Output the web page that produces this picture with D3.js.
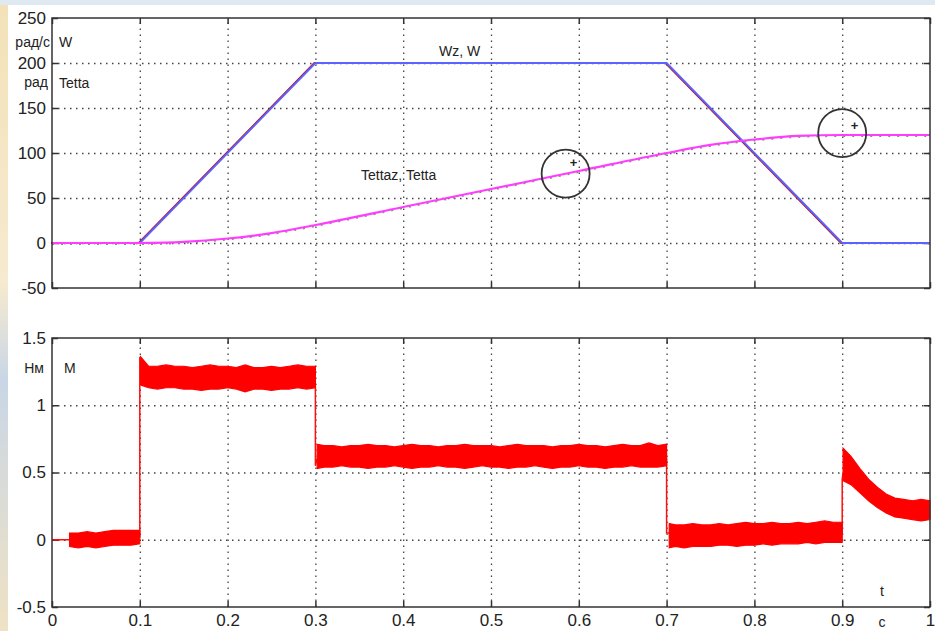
<!DOCTYPE html>
<meta charset="utf-8">
<style>
 body { margin: 0; background: #fff; }
 svg { font-family: 'Liberation Sans', Arial, sans-serif; }
 .grid line { stroke: #444; stroke-dasharray: 1.5,4.5; stroke-width: 1.3; }
 .grid path { display: none; }
 .ticks path { display: none; }
 .ticks line { stroke: #333; stroke-width: 1.5; }
 .ticks text { font-size: 17px; fill: #222; }
 .frame { fill: none; stroke: #333; stroke-width: 1.5; }
 .lbl { font-size: 14px; fill: #222; }
</style>
<body>
<script src="https://cdn.jsdelivr.net/npm/d3@7"></script>
<script>

 // top panel: speed W / Wz and angle Tetta / Tettaz
 var wT    = [0, 0.1, 0.3, 0.7, 0.9, 1.0];
 var wVal  = [0, 0, 200, 200, 0, 0];
 var wzVal = [0, 0, 200, 200, 0, 0];

 var thT   = [0, 0.1, 0.13, 0.15, 0.2, 0.25, 0.3, 0.4, 0.5, 0.6, 0.7, 0.75, 0.8, 0.85, 0.9, 1.0];
 var thVal = [0, 0, 0.5, 1.3, 5, 11, 20, 40, 60, 80, 100, 109, 115, 119, 120, 120];

 // circled markers
 var markT   = [0.585, 0.9];
 var markVal = [77, 122];
 var plusT   = [0.594, 0.914];
 var plusVal = [90, 131];

 // bottom panel: torque M, noisy band given as upper / lower envelope
 var mT  = [0.02,0.03,0.04,0.05,0.06,0.07,0.08,0.09,0.10, null,
            0.101,0.11,0.12,0.13,0.14,0.15,0.16,0.17,0.18,0.19,0.20,0.21,0.22,0.23,0.24,0.25,0.26,0.27,0.28,0.29,0.30, null,
            0.302,0.31,0.32,0.33,0.34,0.35,0.36,0.37,0.38,0.39,0.40,0.41,0.42,0.43,0.44,0.45,0.46,0.47,0.48,0.49,0.50,
            0.51,0.52,0.53,0.54,0.55,0.56,0.57,0.58,0.59,0.60,0.61,0.62,0.63,0.64,0.65,0.66,0.67,0.68,0.69,0.70, null,
            0.703,0.71,0.72,0.73,0.74,0.75,0.76,0.77,0.78,0.79,0.80,0.81,0.82,0.83,0.84,0.85,0.86,0.87,0.88,0.89,0.90, null,
            0.901,0.91,0.92,0.93,0.94,0.95,0.96,0.97,0.98,0.99,1.0];
 var mHi = [0.05,0.05,0.06,0.05,0.06,0.07,0.07,0.07,0.07, null,
            1.36,1.29,1.29,1.30,1.29,1.29,1.28,1.29,1.30,1.29,1.29,1.28,1.30,1.28,1.28,1.29,1.28,1.29,1.30,1.29,1.29, null,
            0.71,0.70,0.70,0.69,0.70,0.70,0.71,0.70,0.70,0.69,0.70,0.71,0.70,0.70,0.69,0.70,0.70,0.71,0.70,0.70,0.70,
            0.69,0.70,0.71,0.70,0.70,0.70,0.69,0.70,0.70,0.71,0.70,0.70,0.69,0.70,0.71,0.70,0.70,0.72,0.70,0.71, null,
            0.12,0.11,0.11,0.12,0.11,0.11,0.12,0.11,0.12,0.13,0.12,0.12,0.13,0.12,0.12,0.13,0.12,0.13,0.14,0.13,0.13, null,
            0.68,0.62,0.53,0.45,0.39,0.34,0.31,0.30,0.29,0.30,0.29];
 var mLo = [-0.05,-0.06,-0.05,-0.06,-0.05,-0.04,-0.04,-0.04,-0.03, null,
            1.15,1.13,1.12,1.13,1.13,1.12,1.12,1.11,1.12,1.12,1.13,1.12,1.10,1.12,1.12,1.11,1.12,1.12,1.13,1.12,1.13, null,
            0.53,0.54,0.54,0.55,0.54,0.54,0.53,0.54,0.54,0.55,0.54,0.53,0.54,0.54,0.55,0.54,0.54,0.53,0.54,0.55,0.54,
            0.54,0.53,0.54,0.54,0.55,0.54,0.53,0.54,0.54,0.55,0.54,0.54,0.53,0.54,0.54,0.55,0.54,0.54,0.54,0.55, null,
            -0.06,-0.05,-0.06,-0.05,-0.05,-0.05,-0.04,-0.04,-0.05,-0.04,-0.04,-0.03,-0.04,-0.03,-0.03,-0.03,-0.02,-0.03,-0.02,-0.02,-0.02, null,
            0.44,0.41,0.35,0.29,0.24,0.20,0.17,0.16,0.15,0.14,0.15];
 // thin trace joining the bands (the steps)
 var stepT   = [0, 0.02, 0.1, 0.1, 0.101, 0.3, 0.3, 0.302, 0.7, 0.7, 0.703, 0.9, 0.9, 0.901];
 var stepVal = [0, 0, 0.02, 1.36, 1.2, 1.15, 0.55, 0.6, 0.6, 0.05, 0.05, 0.05, 0.45, 0.5];

 var xTicks    = [0, 0.1, 0.2, 0.3, 0.4, 0.5, 0.6, 0.7, 0.8, 0.9, 1];
 var topTicks  = [-50, 0, 50, 100, 150, 200, 250];
 var botTicks  = [-0.5, 0, 0.5, 1, 1.5];

 var width = 935, height = 631;

 var svg = d3.select("body").append("svg")
             .attr("width", width)
             .attr("height", height);

 // blurry slide background peeking at left and top
 var defs = svg.append("defs");
 var lg = defs.append("linearGradient").attr("id", "edge").attr("x1", 0).attr("x2", 0).attr("y1", 0).attr("y2", 1);
 lg.append("stop").attr("offset", "0%").attr("stop-color", "#f3e2b8");
 lg.append("stop").attr("offset", "45%").attr("stop-color", "#f6ead0");
 lg.append("stop").attr("offset", "60%").attr("stop-color", "#c9d6e6");
 lg.append("stop").attr("offset", "100%").attr("stop-color", "#efe2c4");
 svg.append("rect").attr("x", 0).attr("y", 0).attr("width", 8).attr("height", height).attr("fill", "url(#edge)");
 svg.append("rect").attr("x", 0).attr("y", 0).attr("width", width).attr("height", 5).attr("fill", "#dfe9f1");

 var x = d3.scaleLinear().domain([0, 1]).range([52, 930]);
 var yTop = d3.scaleLinear().domain([-50, 250]).range([288, 18]);
 var yBot = d3.scaleLinear().domain([-0.5, 1.5]).range([607, 338]);

 var plain = d => String(d);

 function panel(y, yTicks, showX) {
     var g = svg.append("g");
     var x0 = x.range()[0], x1 = x.range()[1];
     var y0 = y.range()[1], y1 = y.range()[0];
     g.append("rect").attr("x", x0).attr("y", y0).attr("width", x1 - x0).attr("height", y1 - y0).attr("fill", "#fff");

     // dotted grid
     g.append("g").attr("class", "grid")
      .attr("transform", "translate(0," + y1 + ")")
      .call(d3.axisBottom(x).tickValues(xTicks.slice(1, -1)).tickSize(-(y1 - y0)).tickFormat(""));
     g.append("g").attr("class", "grid")
      .attr("transform", "translate(" + x0 + ",0)")
      .call(d3.axisLeft(y).tickValues(yTicks.slice(1, -1)).tickSize(-(x1 - x0)).tickFormat(""));

     // inward ticks on all sides
     g.append("g").attr("class", "ticks")
      .attr("transform", "translate(" + x0 + ",0)")
      .call(d3.axisLeft(y).tickValues(yTicks).tickSize(-6).tickPadding(6).tickFormat(plain));
     g.append("g").attr("class", "ticks")
      .attr("transform", "translate(" + x1 + ",0)")
      .call(d3.axisRight(y).tickValues(yTicks).tickSize(-6).tickFormat(""));
     g.append("g").attr("class", "ticks")
      .attr("transform", "translate(0," + y0 + ")")
      .call(d3.axisTop(x).tickValues(xTicks).tickSize(-6).tickFormat(""));
     g.append("g").attr("class", "ticks")
      .attr("transform", "translate(0," + y1 + ")")
      .call(d3.axisBottom(x).tickValues(xTicks).tickSize(-6).tickPadding(7)
               .tickFormat(showX ? plain : ""));
     return g;
 }

 var gTop = panel(yTop, topTicks, false);
 var gBot = panel(yBot, botTicks, true);

 // ---- top panel curves
 var wData  = wT.map((t, i) => ({t: t, v: wVal[i]}));
 var wzData = wT.map((t, i) => ({t: t, v: wzVal[i]}));
 var thData = thT.map((t, i) => ({t: t, v: thVal[i]}));

 var lineTop = d3.line().x(d => x(d.t)).y(d => yTop(d.v));
 var curveTop = d3.line().x(d => x(d.t)).y(d => yTop(d.v)).curve(d3.curveMonotoneX);

 gTop.append("path").datum(wzData)
     .attr("fill", "none").attr("stroke", "#c0101a").attr("stroke-width", 2)
     .attr("transform", "translate(-1,0)")
     .attr("d", lineTop);
 gTop.append("path").datum(wData)
     .attr("fill", "none").attr("stroke", "#5a63ff").attr("stroke-width", 2)
     .attr("d", lineTop);

 gTop.append("path").datum(thData)
     .attr("fill", "none").attr("stroke", "#6aa060").attr("stroke-width", 2)
     .attr("stroke-dasharray", "2,7")
     .attr("transform", "translate(0,1)")
     .attr("d", curveTop);
 gTop.append("path").datum(thData)
     .attr("fill", "none").attr("stroke", "#ff3cff").attr("stroke-width", 2.2)
     .attr("d", curveTop);

 gTop.selectAll(".mark").data(markT).enter().append("circle")
     .attr("class", "mark")
     .attr("cx", d => x(d)).attr("cy", (d, i) => yTop(markVal[i]))
     .attr("r", 24)
     .attr("fill", "none").attr("stroke", "#333").attr("stroke-width", 1.8);
 gTop.selectAll(".plus").data(plusT).enter().append("text")
     .attr("class", "plus")
     .attr("x", d => x(d)).attr("y", (d, i) => yTop(plusVal[i]))
     .attr("dy", "0.35em").attr("text-anchor", "middle")
     .attr("font-size", 13).attr("font-weight", "bold").attr("fill", "#222")
     .text("+");

 svg.append("text").attr("class", "lbl").attr("x", 50).attr("y", 47).attr("text-anchor", "end").attr("font-size", 13).text("рад/с");
 svg.append("text").attr("class", "lbl").attr("x", 48).attr("y", 87).attr("text-anchor", "end").attr("font-size", 13).text("рад");
 svg.append("text").attr("class", "lbl").attr("x", 59).attr("y", 47).text("W");
 svg.append("text").attr("class", "lbl").attr("x", 59).attr("y", 88).text("Tetta");
 svg.append("text").attr("class", "lbl").attr("x", 439).attr("y", 56).text("Wz, W");
 svg.append("text").attr("class", "lbl").attr("x", 361).attr("y", 180).text("Tettaz, Tetta");

 // ---- bottom panel torque
 var mData = mT.map((t, i) => ({t: t, hi: mHi[i], lo: mLo[i]}));
 var stepData = stepT.map((t, i) => ({t: t, v: stepVal[i]}));

 gBot.append("path").datum(stepData)
     .attr("fill", "none").attr("stroke", "#ff1010").attr("stroke-width", 1.5)
     .attr("d", d3.line().x(d => x(d.t)).y(d => yBot(d.v)));

 gBot.append("path").datum(mData)
     .attr("fill", "#ff0000").attr("stroke", "#ff0000").attr("stroke-width", 1.2)
     .attr("stroke-linejoin", "miter")
     .attr("d", d3.area().defined(d => d.t != null)
                  .x(d => x(d.t)).y0(d => yBot(d.lo)).y1(d => yBot(d.hi)));

 svg.append("text").attr("class", "lbl").attr("x", 44).attr("y", 373).attr("text-anchor", "end").text("Нм");
 svg.append("text").attr("class", "lbl").attr("x", 64).attr("y", 373).text("М");
 svg.append("text").attr("class", "lbl").attr("x", 882).attr("y", 596).attr("text-anchor", "middle").text("t");
 svg.append("text").attr("class", "lbl").attr("x", 882).attr("y", 627).attr("text-anchor", "middle").text("c");

 // frames on top of everything
 [yTop, yBot].forEach(function(y) {
     svg.append("rect").attr("class", "frame")
        .attr("x", x.range()[0]).attr("y", y.range()[1])
        .attr("width", x.range()[1] - x.range()[0])
        .attr("height", y.range()[0] - y.range()[1]);
 });

</script>
